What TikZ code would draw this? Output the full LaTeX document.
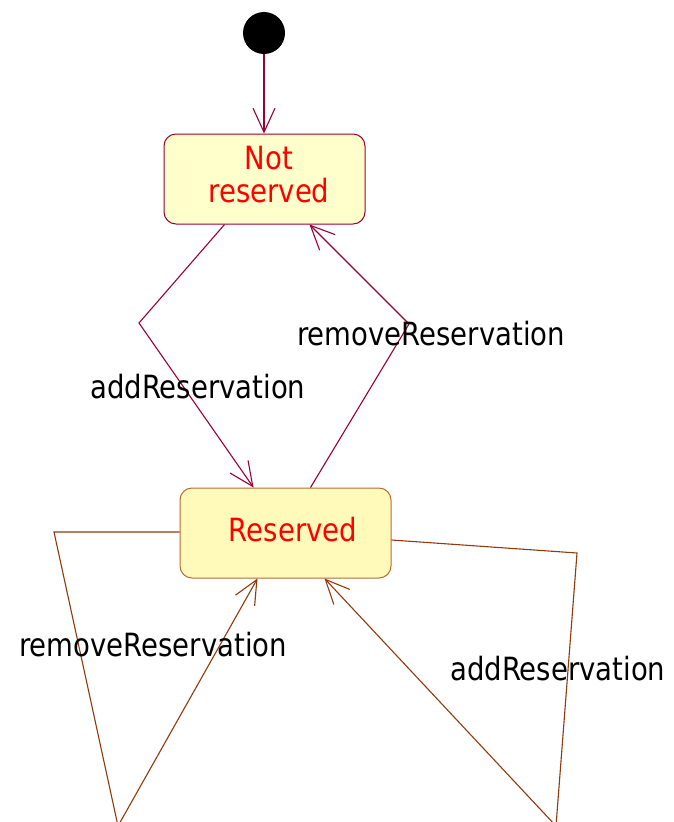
\documentclass[tikz,border=0pt]{standalone}
\usepackage{fontspec}
\setmainfont{DejaVu Sans}[FakeStretch=0.86]
\usetikzlibrary{arrows.meta,calc}
\definecolor{maroonline}{HTML}{990033}
\definecolor{brownline}{HTML}{8F3A0C}
\definecolor{rborder}{HTML}{B46E32}
\definecolor{nrfill}{HTML}{FFFFCC}
\definecolor{rfill}{HTML}{FFF9BA}
\definecolor{statered}{HTML}{FF0000}
\begin{document}
\begin{tikzpicture}[x=1pt,y=-1pt,
  statebox/.style={draw, rounded corners=12pt, line width=1pt, inner sep=0pt},
  statetext/.style={text=statered, inner sep=0pt, align=center, font=\fontsize{32}{33}\selectfont},
  lbl/.style={text=black, inner sep=0pt, anchor=base west, font=\fontsize{32}{33}\selectfont},
  tip/.style={-{Straight Barb[length=24pt,width=22pt,line width=1.1pt]}},
  trans/.style={draw=maroonline, line width=1.1pt, tip},
  loop/.style={draw=brownline, line width=1.1pt, tip}]
\useasboundingbox (0,0) rectangle (673,822);
% initial state
\node[circle, fill=black, minimum size=42pt, inner sep=0pt] (init) at (264,33) {};
% states
\node[statebox, draw=maroonline, fill=nrfill, minimum width=201pt, minimum height=90pt] (nr) at (264.5,179) {};
\node[statetext] (nrtext) at (269,175) {Not\\reserved};
\node[statebox, draw=rborder, fill=rfill, minimum width=211pt, minimum height=90pt] (r) at (285.5,533) {};
\node[statetext, anchor=base] (rtext) at (293,541) {Reserved};
% bend points
\coordinate (addbend) at (139,323);
\coordinate (rembend) at (409,324);
\coordinate (l1) at (54,532);
\coordinate (l2) at (118,826);
\coordinate (r1) at (577,553);
\coordinate (r2) at (556,826);
% connectors
\draw[trans] (init.south) -- (init.south |- nr.north);
\draw[trans] ([xshift=61pt]nr.south west) -- (addbend) -- ([xshift=74pt]r.north west);
\draw[trans] ([xshift=131pt]r.north west) -- (rembend) -- ([xshift=146pt]nr.south west);
\draw[loop] ([yshift=1pt]r.west) -- (l1) -- (l2) -- ([xshift=78pt]r.south west);
\draw[loop] ([yshift=-7pt]r.east) -- (r1) -- (r2) -- ([xshift=145pt]r.south west);
% labels
\node[lbl] (lab1) at (90,398) {addReservation};
\node[lbl] (lab2) at (297,345) {removeReservation};
\node[lbl] (lab3) at (19,656) {removeReservation};
\node[lbl] (lab4) at (450,680) {addReservation};
\end{tikzpicture}
\end{document}
